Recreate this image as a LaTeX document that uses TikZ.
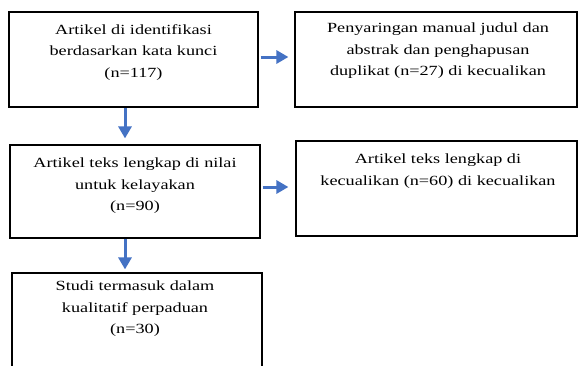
\documentclass[tikz,border=0pt]{standalone}
\usepackage{fontspec}
\setmainfont{Liberation Serif}[FakeStretch=1.3]
\usetikzlibrary{arrows.meta}
\definecolor{arrowblue}{HTML}{4472C4}
\tikzset{
  box/.style={draw=black, line width=1.2pt, rectangle, inner sep=0pt, fill=white},
  label/.style={align=center, font=\fontsize{14}{21.5}\selectfont, inner sep=0pt, anchor=north},
  flow/.style={draw=arrowblue, line width=3pt, -{Triangle[width=13pt,length=12pt]}}
}
\begin{document}
\begin{tikzpicture}[x=1pt,y=-1pt]
\useasboundingbox (0,0) rectangle (579,365);
% boxes
\node[box, minimum width=249pt, minimum height=95pt] (b1) at (133.5,59.5) {};
\node[box, minimum width=282pt, minimum height=95pt] (b2) at (436,59.5) {};
\node[box, minimum width=250pt, minimum height=93pt] (b3) at (135,191.5) {};
\node[box, minimum width=281pt, minimum height=95pt] (b4) at (436.5,188.5) {};
\node[box, minimum width=250pt, minimum height=120pt] (b5) at (137,333) {};
% texts
\node[label] (t1) at (133.5,24) {Artikel di identifikasi\\berdasarkan kata kunci\\(n=117)};
\node[label] (t2) at (438,23) {Penyaringan manual judul dan\\abstrak dan penghapusan\\duplikat (n=27) di kecualikan};
\node[label] (t3) at (135,158) {Artikel teks lengkap di nilai\\untuk kelayakan\\(n=90)};
\node[label] (t4) at (438,154) {Artikel teks lengkap di\\kecualikan (n=60) di kecualikan};
\node[label] (t5) at (135,281) {Studi termasuk dalam\\kualitatif perpaduan\\(n=30)};
% connectors
\draw[flow, shorten <=2pt, shorten >=6pt] (b1.east |- 0,57) -- (b2.west |- 0,57);
\draw[flow, shorten <=2pt, shorten >=7pt] (b3.east |- 0,187) -- (b4.west |- 0,187);
\draw[flow, shorten <=0.5pt, shorten >=6pt] (b1.south -| 125,0) -- (b3.north -| 125,0);
\draw[flow, shorten <=0.5pt, shorten >=3pt] (b3.south -| 125,0) -- (b5.north -| 125,0);
\end{tikzpicture}
\end{document}
